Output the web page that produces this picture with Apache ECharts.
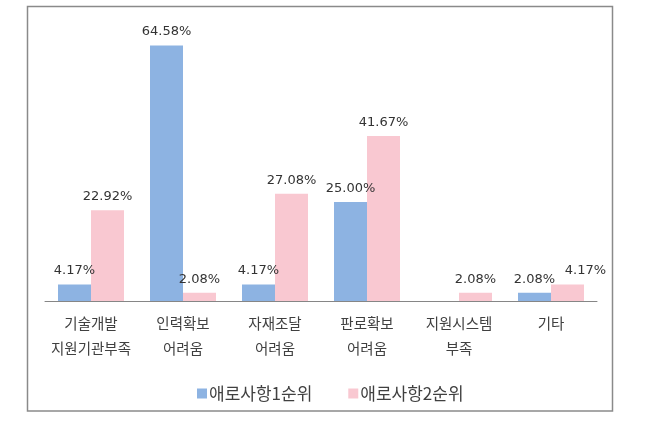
<!DOCTYPE html>
<html>
<head>
<meta charset="utf-8">
<script src="https://cdn.jsdelivr.net/npm/echarts@6/dist/echarts.min.js"></script>
<style>
html,body{margin:0;padding:0;background:#fff;}
#chart{width:670px;height:423px;}
</style>
</head>
<body>
<div id="chart"></div>
<script>
var categories = ['기술개발\n지원기관부족', '인력확보\n어려움', '자재조달\n어려움', '판로확보\n어려움', '지원시스템\n부족', '기타'];
var seriesNames = ['애로사항1순위', '애로사항2순위'];
var rank1 = [4.17, 64.58, 4.17, 25.00, 0, 2.08];
var rank2 = [22.92, 2.08, 27.08, 41.67, 2.08, 4.17];

var chart = echarts.init(document.getElementById('chart'), null, {renderer: 'canvas'});

function labelFmt(p) {
  return p.value ? p.value.toFixed(2) + '%' : '';
}
var labelStyle = {
  show: true,
  position: 'top',
  distance: 7,
  fontSize: 13,
  fontFamily: 'DejaVu Sans',
  color: '#333333',
  formatter: labelFmt
};

var rank2Data = rank2.map(function (v, i) {
  if (i === 5) return {value: v, label: {offset: [18, 0]}};
  return v;
});

chart.setOption({
  animation: false,
  backgroundColor: '#fff',
  graphic: [{
    type: 'rect',
    shape: {x: 27.5, y: 6.5, width: 585, height: 404.5},
    style: {fill: 'none', stroke: '#8a8a8a', lineWidth: 1.5},
    silent: true
  }],
  grid: {left: 45, right: 73, top: 24, bottom: 122},
  legend: {
    left: 192,
    top: 380,
    itemWidth: 10,
    itemHeight: 10,
    itemGap: 36,
    icon: 'rect',
    data: seriesNames,
    textStyle: {fontSize: 17, fontFamily: 'Noto Sans CJK KR', color: '#404040', padding: [0, 0, 0, -3]}
  },
  xAxis: {
    type: 'category',
    data: categories,
    axisLine: {lineStyle: {color: '#868686', width: 1}},
    axisTick: {show: false},
    axisLabel: {
      interval: 0,
      margin: 10,
      fontSize: 14.5,
      lineHeight: 25,
      fontFamily: 'Noto Sans CJK KR',
      color: '#404040'
    }
  },
  yAxis: {
    type: 'value',
    min: 0,
    max: 70,
    show: false,
    splitLine: {show: false}
  },
  series: [
    {
      name: seriesNames[0],
      type: 'bar',
      data: rank1,
      barWidth: 33,
      barGap: '0%',
      itemStyle: {color: '#8db3e2'},
      label: labelStyle
    },
    {
      name: seriesNames[1],
      type: 'bar',
      data: rank2Data,
      barWidth: 33,
      itemStyle: {color: '#f9c8d1'},
      label: labelStyle
    }
  ]
});
</script>
</body>
</html>
